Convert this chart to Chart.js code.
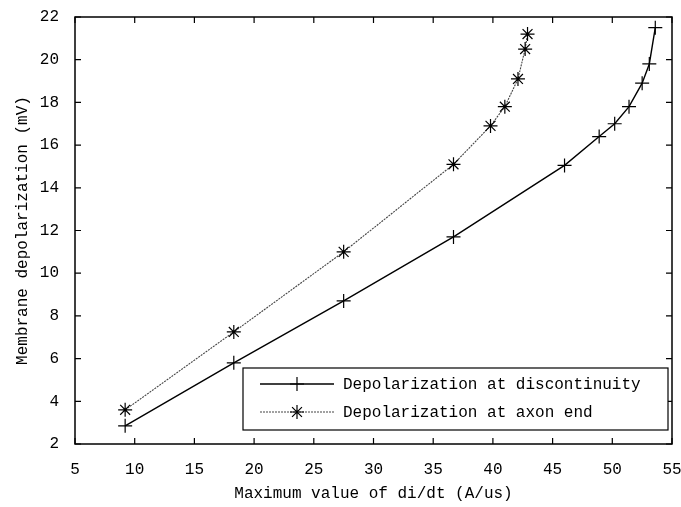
<!DOCTYPE html>
<html lang="en">
<head>
    <meta charset="UTF-8">
    <title>Membrane depolarization vs di/dt</title>
    <style>
        html, body { margin: 0; padding: 0; background: #fff; }
        #wrap { width: 681px; height: 507px; }
    </style>
</head>
<body>
    <div id="wrap"><canvas id="depolChart" width="681" height="507"></canvas></div>

    <script src="https://cdn.jsdelivr.net/npm/chart.js"></script>
    <script>
        // discontinuity series (+ markers)
        const discX = [9.2, 18.3, 27.5, 36.7, 46.0, 48.9, 50.2, 51.4, 52.5, 53.1, 53.6];
        const discY = [2.85, 5.8, 8.7, 11.7, 15.05, 16.4, 17.0, 17.8, 18.9, 19.8, 21.5];
        // axon end series (* markers)
        const axonX = [9.2, 18.3, 27.5, 36.7, 39.8, 41.0, 42.1, 42.7, 42.9];
        const axonY = [3.6, 7.25, 11.0, 15.1, 16.9, 17.8, 19.1, 20.5, 21.2];

        const seriesLabels = ['Depolarization at discontinuity', 'Depolarization at axon end'];
        const xTitle = 'Maximum value of di/dt (A/us)';
        const yTitle = 'Membrane depolarization (mV)';

        const FONT = "'Liberation Mono', 'DejaVu Sans Mono', monospace";

        const toPoints = (xs, ys) => xs.map((x, i) => ({ x: x, y: ys[i] }));

        // box, inward ticks and the legend, matlab style
        const framePlugin = {
            id: 'frame',
            afterDraw(chart) {
                const ctx = chart.ctx;
                const a = chart.chartArea;
                const xs = chart.scales.x, ys = chart.scales.y;
                ctx.save();
                ctx.strokeStyle = '#000';
                ctx.lineWidth = 1.5;
                ctx.strokeRect(a.left, a.top, a.right - a.left, a.bottom - a.top);

                ctx.lineWidth = 1.2;
                const len = 6;
                ctx.beginPath();
                xs.ticks.forEach(t => {
                    const px = xs.getPixelForValue(t.value);
                    ctx.moveTo(px, a.bottom); ctx.lineTo(px, a.bottom - len);
                    ctx.moveTo(px, a.top); ctx.lineTo(px, a.top + len);
                });
                ys.ticks.forEach(t => {
                    const py = ys.getPixelForValue(t.value);
                    ctx.moveTo(a.left, py); ctx.lineTo(a.left + len, py);
                    ctx.moveTo(a.right, py); ctx.lineTo(a.right - len, py);
                });
                ctx.stroke();

                // legend
                const lx = 243, ly = 368, lw = 425, lh = 62;
                ctx.fillStyle = '#fff';
                ctx.fillRect(lx, ly, lw, lh);
                ctx.lineWidth = 1.2;
                ctx.strokeRect(lx, ly, lw, lh);

                const rows = [ly + 16, ly + 44];
                chart.data.datasets.forEach((ds, i) => {
                    const y = rows[i];
                    ctx.save();
                    ctx.strokeStyle = ds.borderColor;
                    ctx.lineWidth = ds.borderWidth;
                    ctx.setLineDash(ds.borderDash || []);
                    ctx.beginPath();
                    ctx.moveTo(lx + 17, y); ctx.lineTo(lx + 91, y);
                    ctx.stroke();
                    ctx.restore();
                    Chart.helpers.drawPoint(ctx, {
                        pointStyle: ds.pointStyle,
                        radius: ds.pointRadius,
                        borderWidth: ds.pointBorderWidth,
                        rotation: 0
                    }, lx + 54, y);
                    ctx.fillStyle = '#000';
                    ctx.font = '16px ' + FONT;
                    ctx.textBaseline = 'middle';
                    ctx.fillText(ds.label, lx + 100, y + 1);
                });
                ctx.restore();
            }
        };

        new Chart(document.getElementById('depolChart'), {
            type: 'line',
            data: {
                datasets: [{
                    label: seriesLabels[0],
                    data: toPoints(discX, discY),
                    borderColor: '#000',
                    borderWidth: 1.4,
                    pointStyle: 'cross',
                    pointRadius: 7,
                    pointBorderWidth: 1.2,
                    pointBorderColor: '#000',
                    fill: false,
                    tension: 0
                }, {
                    label: seriesLabels[1],
                    data: toPoints(axonX, axonY),
                    borderColor: '#444',
                    borderWidth: 1.1,
                    borderDash: [2, 1],
                    pointStyle: 'star',
                    pointRadius: 7,
                    pointBorderWidth: 1.2,
                    pointBorderColor: '#000',
                    fill: false,
                    tension: 0
                }]
            },
            options: {
                responsive: false,
                animation: false,
                layout: { padding: { top: 17, right: 9, left: 0, bottom: 0 } },
                plugins: {
                    legend: { display: false },
                    tooltip: { enabled: false }
                },
                scales: {
                    x: {
                        type: 'linear',
                        min: 5, max: 55,
                        ticks: { stepSize: 5, color: '#000', padding: 8, font: { family: FONT, size: 16 } },
                        grid: { display: false },
                        border: { display: false },
                        title: { display: true, text: xTitle, color: '#000', font: { family: FONT, size: 16 }, padding: { top: 4 } },
                        afterFit(scale) {
                            scale.height = 63;
                            scale.paddingRight = 0;
                            scale.paddingLeft = 0;
                        }
                    },
                    y: {
                        type: 'linear',
                        min: 2, max: 22,
                        ticks: { stepSize: 2, color: '#000', padding: 8, font: { family: FONT, size: 16 } },
                        grid: { display: false },
                        border: { display: false },
                        title: { display: true, text: yTitle, color: '#000', font: { family: FONT, size: 16 }, padding: { top: 13 } },
                        afterFit(scale) {
                            scale.width = 75;
                            scale.paddingTop = 0;
                            scale.paddingBottom = 0;
                        }
                    }
                }
            },
            plugins: [framePlugin]
        });
    </script>
</body>
</html>
